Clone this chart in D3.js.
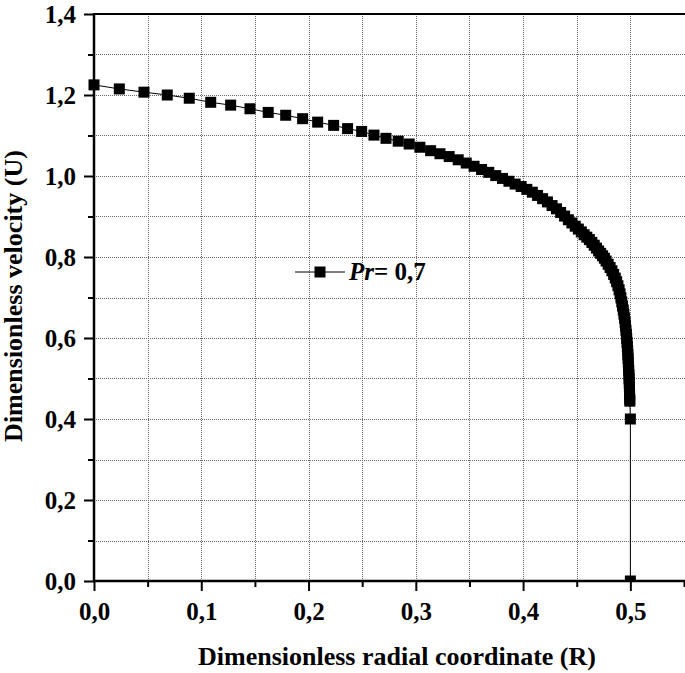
<!DOCTYPE html>
<html>
<head>
<meta charset="utf-8">
<script src="https://cdn.jsdelivr.net/npm/d3@7"></script>
<style>
  html, body { margin: 0; padding: 0; background: #fff; }
  svg { display: block; }
</style>
</head>
<body>
<svg id="chart" width="685" height="673"></svg>
<script>
// ---- data ----
const R = [
  0.0000, 0.0236, 0.0466, 0.0683, 0.0888, 0.1088, 0.1274, 0.1454, 0.1624, 0.1787,
  0.1945, 0.2085, 0.2234, 0.2364, 0.2495, 0.2610, 0.2722, 0.2836, 0.2938, 0.3038,
  0.3138, 0.3225, 0.3311, 0.3395,
  0.3470, 0.3543, 0.3613, 0.3680, 0.3745, 0.3808, 0.3868, 0.3926, 0.3982,
  0.4035, 0.4086, 0.4135, 0.4182, 0.4227, 0.4270, 0.4311, 0.4350, 0.4387, 0.4422, 0.4455, 0.4486,
  0.4515, 0.4543, 0.4569, 0.4594, 0.4618, 0.4641, 0.4663, 0.4684, 0.4704, 0.4723, 0.4741, 0.4758,
  0.4774, 0.4793, 0.4811, 0.4828, 0.4844, 0.4859, 0.4872, 0.4884, 0.4895, 0.4904, 0.4912,
  0.4920, 0.4927, 0.4934, 0.4940, 0.4946, 0.4951, 0.4955, 0.4959, 0.4963, 0.4966,
  0.4969, 0.4972, 0.4975, 0.4977, 0.4979, 0.4981, 0.4983, 0.4985, 0.4987, 0.4988,
  0.4990, 0.4991, 0.4992, 0.4993, 0.4994, 0.4995,
  0.5000, 0.5000
];
const U = [
  1.225, 1.215, 1.207, 1.200, 1.192, 1.182, 1.175, 1.166, 1.157, 1.150,
  1.1415, 1.133, 1.125, 1.117, 1.110, 1.101, 1.093, 1.086, 1.079, 1.071,
  1.0625, 1.055, 1.048, 1.040,
  1.032, 1.024, 1.016, 1.009, 1.001, 0.994, 0.987, 0.980, 0.974,
  0.967, 0.960, 0.952, 0.944, 0.936, 0.927, 0.919, 0.910, 0.901, 0.892, 0.884, 0.876,
  0.869, 0.862, 0.855, 0.849, 0.843, 0.836, 0.829, 0.822, 0.815, 0.809, 0.803, 0.797,
  0.790, 0.782, 0.774, 0.766, 0.757, 0.748, 0.739, 0.729, 0.719, 0.709, 0.699,
  0.689, 0.679, 0.669, 0.659, 0.649, 0.639, 0.629, 0.619, 0.609, 0.599,
  0.589, 0.579, 0.569, 0.559, 0.549, 0.539, 0.529, 0.519, 0.509, 0.499,
  0.489, 0.479, 0.469, 0.459, 0.449, 0.444,
  0.400, 0.000
];
const xMajorTicks = [0, 0.1, 0.2, 0.3, 0.4, 0.5];
const xMinorTicks = [0.05, 0.15, 0.25, 0.35, 0.45, 0.55];
const yMajorTicks = [0, 0.2, 0.4, 0.6, 0.8, 1.0, 1.2, 1.4];
const yMinorTicks = [0.1, 0.3, 0.5, 0.7, 0.9, 1.1, 1.3];
const xGrid = [0.05, 0.1, 0.15, 0.2, 0.25, 0.3, 0.35, 0.4, 0.45, 0.5];
const yGrid = [0.1, 0.2, 0.3, 0.4, 0.5, 0.6, 0.7, 0.8, 0.9, 1.0, 1.1, 1.2, 1.3];
const xTitle = "Dimensionless radial coordinate (R)";
const yTitle = "Dimensionless velocity (U)";
const legendValue = "= 0,7";

// ---- layout ----
const pL = 94, pR = 684, pT = 14, pB = 581;
const FONT = "'Liberation Serif', 'Times New Roman', serif";
const svg = d3.select("#chart");
const x = d3.scaleLinear().domain([0, 0.55]).range([pL, pR]);
const y = d3.scaleLinear().domain([0, 1.4]).range([pB, pT]);
const fmt = d => d3.format(".1f")(d).replace(".", ",");

svg.append("defs").append("clipPath").attr("id", "plotclip")
  .append("rect").attr("x", pL - 8).attr("y", pT - 8).attr("width", pR - pL + 10).attr("height", pB - pT + 8);

// grid
const grid = svg.append("g").attr("stroke", "#6a6a6a").attr("stroke-width", 1).attr("stroke-dasharray", "1,1");
grid.selectAll(".vg").data(xGrid).join("line")
  .attr("x1", d => Math.round(x(d)) + 0.5).attr("x2", d => Math.round(x(d)) + 0.5)
  .attr("y1", pT).attr("y2", pB);
grid.selectAll(".hg").data(yGrid).join("line")
  .attr("y1", d => Math.round(y(d)) + 0.5).attr("y2", d => Math.round(y(d)) + 0.5)
  .attr("x1", pL).attr("x2", pR + 1);

// data line + markers
const pts = R.map((r, i) => [r, U[i]]);
const plot = svg.append("g").attr("clip-path", "url(#plotclip)");
plot.append("path").datum(pts)
  .attr("fill", "none").attr("stroke", "#000").attr("stroke-width", 1)
  .attr("d", d3.line().x(d => x(d[0])).y(d => y(d[1])));
const ms = 11;
plot.selectAll("rect.m").data(pts).join("rect")
  .attr("x", d => x(d[0]) - ms / 2).attr("y", d => y(d[1]) - ms / 2)
  .attr("width", ms).attr("height", ms).attr("fill", "#000");

// axes
const xMajor = d3.axisBottom(x).tickValues(xMajorTicks).tickSize(10).tickFormat(fmt).tickPadding(11);
const xMinor = d3.axisBottom(x).tickValues(xMinorTicks).tickSize(6).tickFormat("");
const yMajor = d3.axisLeft(y).tickValues(yMajorTicks).tickSize(10).tickFormat(fmt).tickPadding(8);
const yMinor = d3.axisLeft(y).tickValues(yMinorTicks).tickSize(6).tickFormat("");

function styleAxis(g) {
  g.attr("font-family", FONT);
  g.select(".domain").remove();
  g.selectAll(".tick line").attr("stroke", "#000").attr("stroke-width", 2);
  g.selectAll(".tick text").attr("font-size", 25).attr("font-family", FONT)
    .attr("font-weight", "bold").attr("fill", "#000");
}
svg.append("g").attr("transform", `translate(0,${pB})`).call(xMinor).call(styleAxis);
svg.append("g").attr("transform", `translate(0,${pB})`).call(xMajor).call(styleAxis);
svg.append("g").attr("transform", `translate(${pL},0)`).call(yMinor).call(styleAxis);
svg.append("g").attr("transform", `translate(${pL},0)`).call(yMajor).call(styleAxis);

// axis lines
svg.append("line").attr("x1", pL).attr("x2", pL).attr("y1", pT - 1).attr("y2", pB + 1)
  .attr("stroke", "#000").attr("stroke-width", 2.5);
svg.append("line").attr("x1", pL - 1).attr("x2", 685).attr("y1", pB).attr("y2", pB)
  .attr("stroke", "#000").attr("stroke-width", 2.5);
svg.append("line").attr("x1", pL - 1).attr("x2", 685).attr("y1", pT).attr("y2", pT)
  .attr("stroke", "#000").attr("stroke-width", 2);

// titles
svg.append("text").attr("x", 397).attr("y", 665).attr("text-anchor", "middle")
  .attr("font-family", FONT).attr("font-weight", "bold").attr("font-size", 26).text(xTitle);
svg.append("text").attr("transform", `translate(22,296) rotate(-90)`).attr("text-anchor", "middle")
  .attr("font-family", FONT).attr("font-weight", "bold").attr("font-size", 26).text(yTitle);

// legend
const ly = 272;
svg.append("line").attr("x1", 295).attr("x2", 345).attr("y1", ly).attr("y2", ly)
  .attr("stroke", "#000").attr("stroke-width", 1);
svg.append("rect").attr("x", 320 - ms / 2).attr("y", ly - ms / 2).attr("width", ms).attr("height", ms).attr("fill", "#000");
const lt = svg.append("text").attr("x", 349).attr("y", 280).attr("font-family", FONT)
  .attr("font-weight", "bold").attr("font-size", 25);
lt.append("tspan").attr("font-style", "italic").text("Pr");
lt.append("tspan").text(legendValue);
</script>
</body>
</html>
